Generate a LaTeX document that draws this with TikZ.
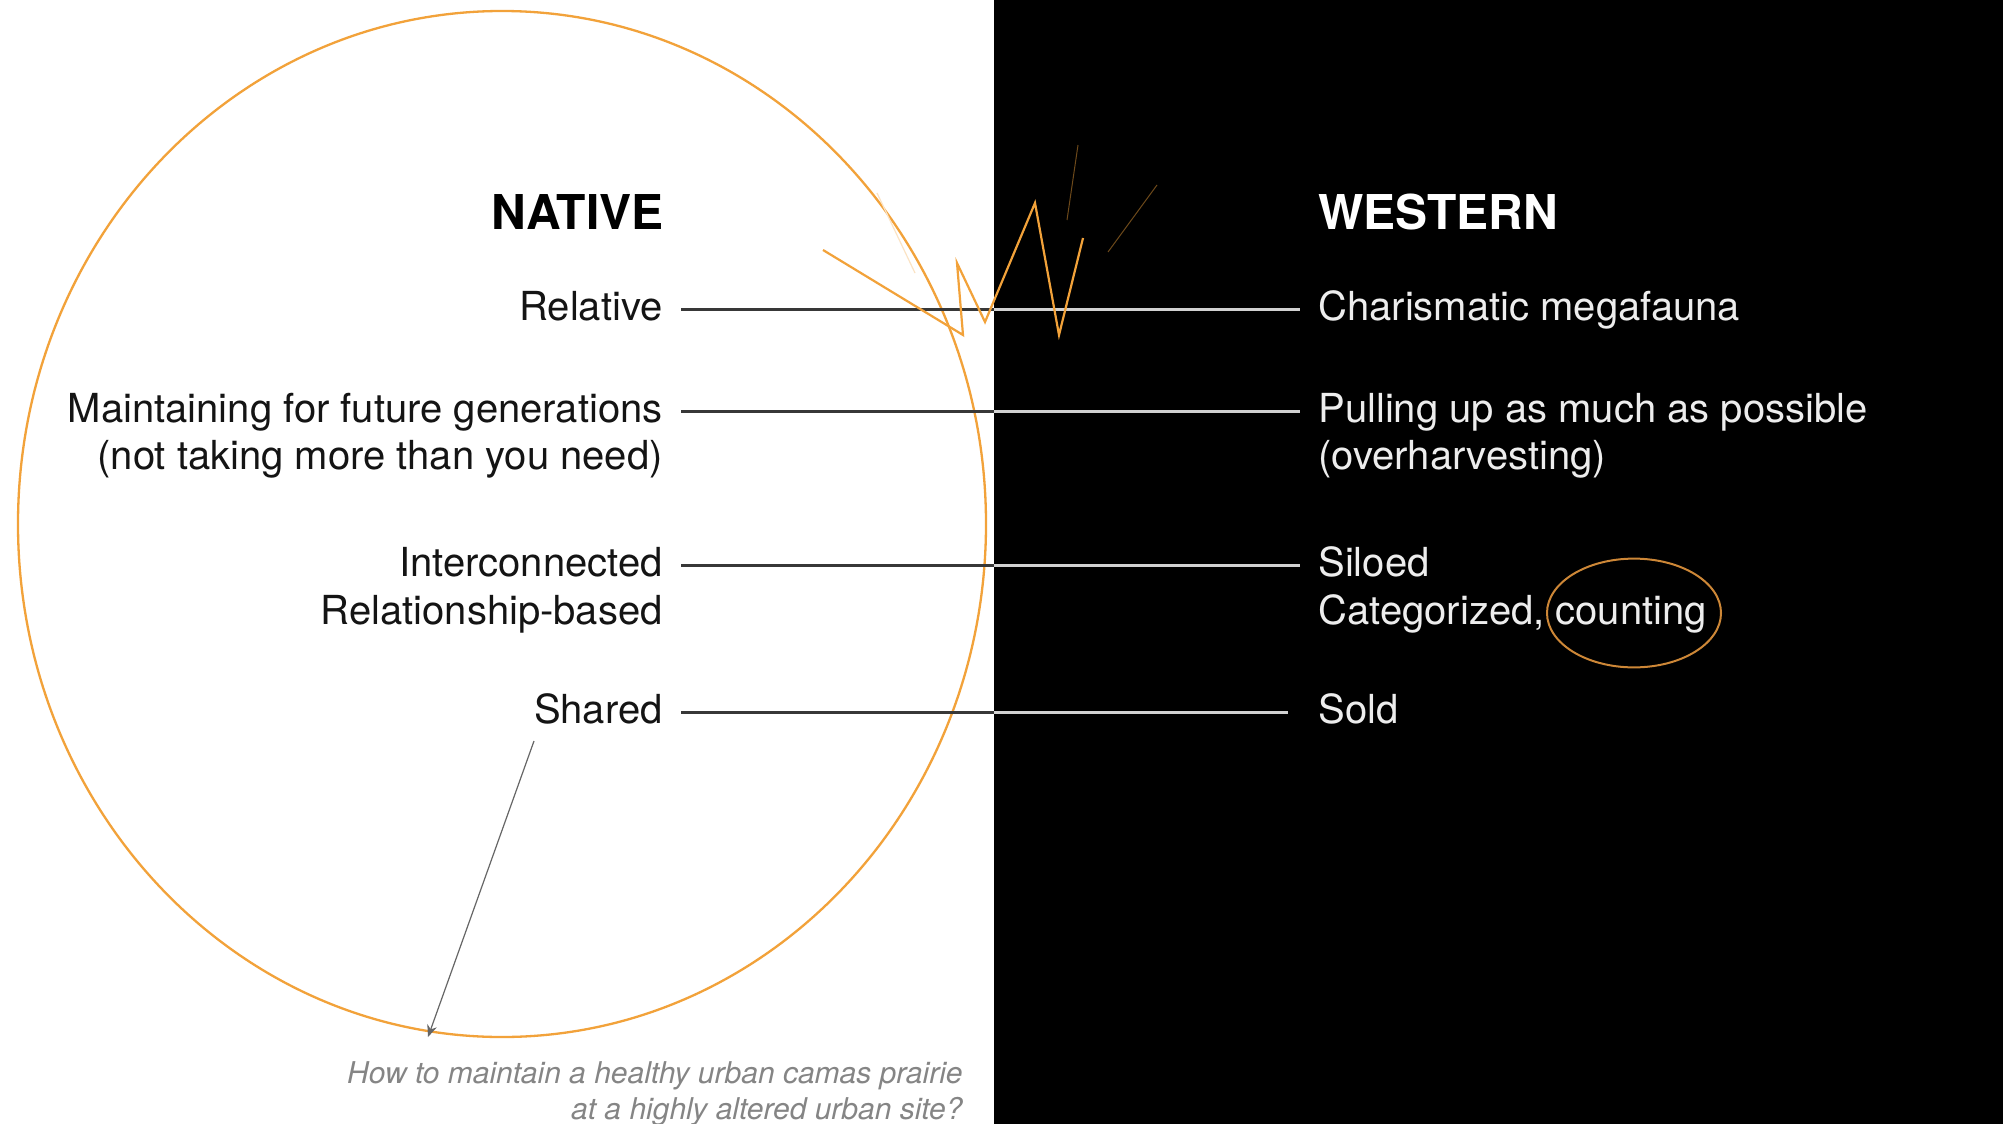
\documentclass[tikz,border=0pt]{standalone}
\usepackage{fontspec}
\setmainfont{TeX Gyre Heros}
\usetikzlibrary{arrows.meta}
\definecolor{camas}{RGB}{242,162,58}
\definecolor{camasdark}{RGB}{205,135,55}
\begin{document}
\begin{tikzpicture}[x=0.5pt,y=-0.5pt,
  lbl/.style={font=\fontsize{20}{24}\selectfont, inner xsep=9pt, inner ysep=0pt},
  ltxt/.style={lbl, text=black!92, anchor=mid east},
  rtxt/.style={lbl, text=white!93!black, anchor=mid west},
  head/.style={font=\fontsize{24}{28}\selectfont\bfseries, inner sep=0pt},
  dlink/.style={draw=black!78, line width=1.5pt},
  wlink/.style={draw=black!18, line width=1.5pt},
  bolt/.style={draw=camas, line width=1.1pt, line join=miter},
  faint/.style={draw=camas!45!black, line width=0.5pt},
  note/.style={font=\fontsize{15}{18}\selectfont\itshape, text=black!48, align=right, inner sep=0pt},
  pointer/.style={draw=black!60, line width=0.6pt, -{Stealth[length=6pt,width=5pt]}}
]
\useasboundingbox (0,0) rectangle (2003,1124);
\fill[white] (0,0) rectangle (994,1124);
\fill[black] (994,0) rectangle (2003,1124);
\coordinate (div) at (994,0);

% big circle
\draw[camas, line width=1.15pt] (502,524) ellipse [x radius=242pt, y radius=256.5pt];

% headings
\node[head, text=black, anchor=east] (native) at (664,212) {NATIVE};
\node[head, text=white, anchor=west] (western) at (1318,212) {WESTERN};

% left labels
\node[ltxt] (rel) at (681,315) {Relative};
\node[ltxt] (main) at (681,417) {Maintaining for future generations};
\node[ltxt] (main2) at (681,464) {(not taking more than you need)};
\node[ltxt] (inter) at (681,571) {Interconnected};
\node[ltxt] (inter2) at (681,619) {Relationship-based};
\node[ltxt] (shared) at (681,718) {Shared};

% right labels
\node[rtxt] (char) at (1300,315) {Charismatic megafauna};
\node[rtxt] (pull) at (1300,417) {Pulling up as much as possible};
\node[rtxt] (pull2) at (1300,464) {(overharvesting)};
\node[rtxt] (silo) at (1300,571) {Siloed};
\node[rtxt] (cat) at (1300,619) {Categorized, counting};
\node[rtxt] (sold) at (1300,718) {Sold};

% connectors
\foreach \a/\b in {rel/char, main/pull, inter/silo} {
  \draw[dlink] ([yshift=3pt]\a.mid east) -- ([yshift=3pt]\a.mid east -| div);
  \draw[wlink] ([yshift=3pt]\a.mid east -| div) -- ([yshift=3pt]\b.mid west);
}
\draw[dlink] ([yshift=3pt]shared.mid east) -- ([yshift=3pt]shared.mid east -| div);
\draw[wlink] ([yshift=3pt]shared.mid east -| div) -- ([xshift=-6pt,yshift=3pt]sold.mid west);

% counting ellipse
\draw[camasdark, line width=1pt] (1634,613) ellipse [x radius=43.5pt, y radius=27.2pt];

% pointer arrow
\coordinate (p0) at (534,741);
\coordinate (p1) at (428,1037);
\draw[pointer] (p0) -- (p1);

% note
\node[note, anchor=east] (q) at (963,1094) {How to maintain a healthy urban camas prairie\\at a highly altered urban site?};

% lightning
\draw[draw=camas!30, line width=0.6pt] (877,193) -- (915,273);
\draw[bolt] (823,250) -- (963,335) -- (957,263) -- (985,322) -- (1035,203) -- (1059,335) -- (1083,238);
\draw[faint] (1078,145) -- (1067,220);
\draw[faint] (1157,185) -- (1108,252);
\end{tikzpicture}
\end{document}
